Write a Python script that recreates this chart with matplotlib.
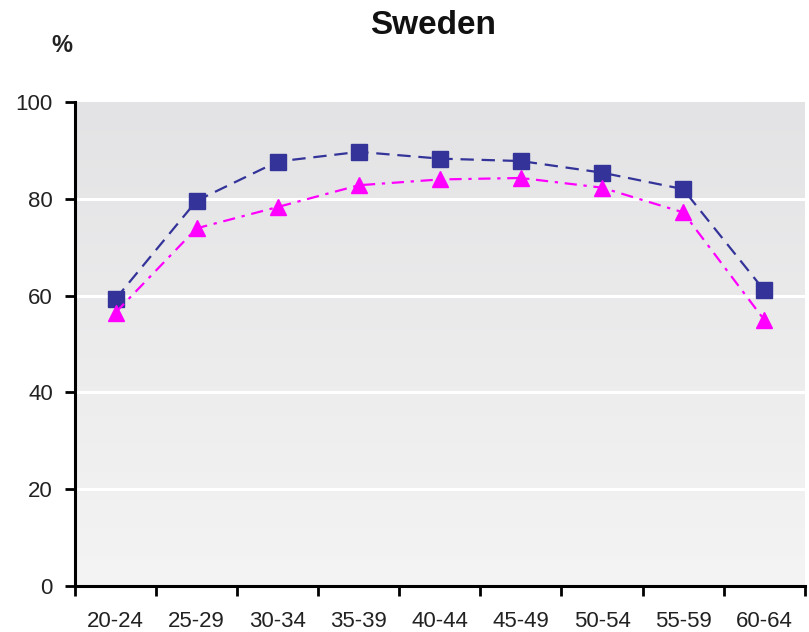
import numpy as np
import matplotlib
matplotlib.use("Agg")
import matplotlib.pyplot as plt
from matplotlib.colors import LinearSegmentedColormap

plt.rcParams["font.family"] = ["Liberation Sans", "DejaVu Sans"]

age_groups = ["20-24", "25-29", "30-34", "35-39", "40-44", "45-49", "50-54", "55-59", "60-64"]
series_a = [59.3, 79.6, 87.7, 89.7, 88.3, 87.8, 85.4, 82.0, 61.1]   # navy squares
series_b = [56.5, 73.9, 78.3, 82.8, 84.0, 84.3, 82.3, 77.2, 55.0]   # magenta triangles
y_ticks = [0, 20, 40, 60, 80, 100]

fig = plt.figure(figsize=(8.09, 6.32), dpi=100)
ax = fig.add_axes([0.0927, 0.0728, 0.9020, 0.7658])

x = np.arange(len(age_groups))

# gradient background: darker grey at top, lighter at bottom
grad = np.linspace(0, 1, 256).reshape(-1, 1)
cmap = LinearSegmentedColormap.from_list("bg", ["#f4f4f4", "#e3e3e5"])
ax.imshow(grad, cmap=cmap, aspect="auto", extent=[0, 1, 0, 1], origin="lower",
          transform=ax.transAxes, zorder=0)

for yv in y_ticks[1:-1]:
    ax.axhline(yv, color="white", linewidth=2.2, zorder=1)

ax.plot(x, series_a, color="#333399", linestyle=(0, (6, 3.5)), linewidth=1.6,
        marker="s", markersize=12, zorder=3)
ax.plot(x, series_b, color="#ff00ff", linestyle=(0, (5.5, 3, 1.5, 3)), linewidth=1.6,
        marker="^", markersize=12, zorder=3)

ax.set_xlim(-0.5, len(age_groups) - 0.5)
ax.set_ylim(0, 100)
ax.set_yticks(y_ticks)
ax.set_xticks(np.arange(len(age_groups) + 1) - 0.5)
ax.set_xticklabels([])
ax.set_xticks(x, minor=True)
ax.set_xticklabels(age_groups, minor=True)

ax.tick_params(axis="both", which="major", direction="out", length=7, width=2,
               color="black", labelsize=16, labelcolor="#222222")
ax.tick_params(axis="x", which="minor", length=0, labelsize=16,
               labelcolor="#222222", pad=18)
ax.tick_params(axis="y", pad=9)

for side in ["top", "right"]:
    ax.spines[side].set_visible(False)
for side in ["left", "bottom"]:
    ax.spines[side].set_linewidth(2.2)
    ax.spines[side].set_color("black")

fig.text(0.535, 0.960, "Sweden", ha="center", va="center",
         fontsize=24, fontweight="bold", color="#111111")
fig.text(0.077, 0.928, "%", ha="center", va="center",
         fontsize=17, fontweight="bold", color="#222222")

fig.savefig("out.png", dpi=100)
